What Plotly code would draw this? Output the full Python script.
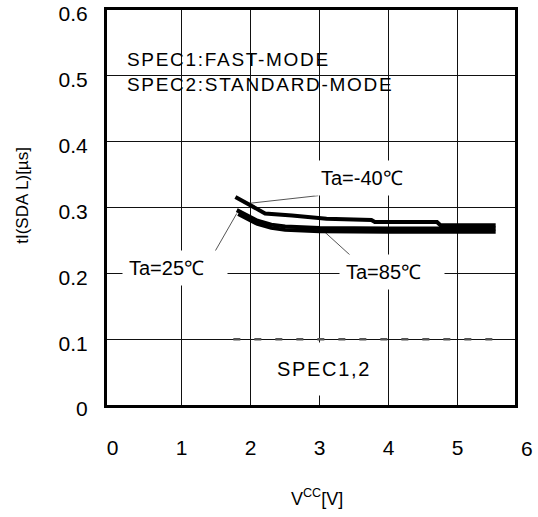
import plotly.graph_objects as go

# ---- data ----
vcc_m40 = [1.78, 1.92, 2.07, 2.21, 2.6, 3.0, 3.1, 3.75, 3.8, 4.7, 4.75, 5.55]
t_m40 = [0.316, 0.308, 0.299, 0.291, 0.288, 0.285, 0.283, 0.281, 0.278, 0.278, 0.273, 0.273]

vcc_25 = [1.8, 1.95, 2.1, 2.3, 2.5, 3.0, 4.0, 5.55]
t_25 = [0.296, 0.288, 0.280, 0.274, 0.271, 0.269, 0.268, 0.268]

vcc_85 = [1.82, 1.95, 2.1, 2.3, 2.5, 3.0, 4.0, 5.55]
t_85 = [0.290, 0.283, 0.275, 0.269, 0.266, 0.264, 0.263, 0.263]

spec_vcc = [1.75, 5.55]
spec_t = [0.1, 0.1]

# leader lines (label -> curve)
lead_m40_x = [2.98, 1.95]
lead_m40_y = [0.318, 0.306]
lead_25_x = [1.45, 1.80]
lead_25_y = [0.227, 0.291]
lead_85_x = [3.48, 3.05]
lead_85_y = [0.224, 0.265]

x_ticks = [0, 1, 2, 3, 4, 5]
x_grid = [1, 2, 3, 4, 5]
x_extra_tick = "6"
y_ticks = [0, 0.1, 0.2, 0.3, 0.4, 0.5, 0.6]
y_tick_text = ["0", "0.1", "0.2", "0.3", "0.4", "0.5", "0.6"]

FONT = "Liberation Sans, Arial, sans-serif"
X_RANGE = [-0.08, 5.83]
GRID = "#111111"

fig = go.Figure()

for xs, ys in [(lead_m40_x, lead_m40_y), (lead_25_x, lead_25_y), (lead_85_x, lead_85_y)]:
    fig.add_trace(go.Scatter(x=xs, y=ys, mode="lines",
                             line=dict(color="#555555", width=1), hoverinfo="skip"))

fig.add_trace(go.Scatter(x=spec_vcc, y=spec_t, mode="lines",
                         line=dict(color="#555555", width=2.5, dash="7px,14px"), hoverinfo="skip"))

for xs, ys, name in [(vcc_m40, t_m40, "Ta=-40℃"), (vcc_25, t_25, "Ta=25℃"), (vcc_85, t_85, "Ta=85℃")]:
    fig.add_trace(go.Scatter(x=xs, y=ys, mode="lines", name=name,
                             line=dict(color="black", width=4)))

nb = "\u00a0\u00a0\u00a0"
ls = '<span style="letter-spacing:1.7px">%s</span>'

annotations = [
    dict(text=ls % "SPEC1:FAST-MODE" + "<br>" + ls % "SPEC2:STANDARD-MODE",
         xref="paper", yref="paper", x=0.044, y=0.842, xanchor="left", yanchor="middle",
         align="left", showarrow=False, font=dict(size=19, family=FONT, color="black")),
    dict(text="Ta=-40℃" + nb, x=3.73, y=0.345, xref="x", yref="y", showarrow=False,
         bgcolor="white", borderpad=6, font=dict(size=20, family=FONT, color="black")),
    dict(text="Ta=25℃" + nb, x=0.904, y=0.208, xref="x", yref="y", showarrow=False,
         bgcolor="white", borderpad=6, font=dict(size=20, family=FONT, color="black")),
    dict(text="Ta=85℃" + nb, x=4.054, y=0.202, xref="x", yref="y", showarrow=False,
         bgcolor="white", borderpad=6, font=dict(size=20, family=FONT, color="black")),
    dict(text=ls % "SPEC1,2", x=3.063, y=0.0554, xref="x", yref="y", showarrow=False,
         bgcolor="white", borderpad=15, font=dict(size=20, family=FONT, color="black")),
    dict(text=x_extra_tick, xref="paper", x=(6 - X_RANGE[0]) / (X_RANGE[1] - X_RANGE[0]),
         y=-0.1089, yref="paper",
         xanchor="center", yanchor="middle", showarrow=False,
         font=dict(size=21, family=FONT, color="black")),
    dict(text="tI(SDA L)[µs]", textangle=-90, xref="paper", yref="paper",
         x=-0.206, y=0.532, xanchor="center", yanchor="middle", showarrow=False,
         font=dict(size=17, family=FONT, color="black")),
    dict(text="V<sup>CC</sup>[V]", xref="paper", yref="paper",
         x=0.515, y=-0.2354, xanchor="center", yanchor="middle", showarrow=False,
         font=dict(size=18, family=FONT, color="black")),
]

fig.update_layout(
    width=538, height=517,
    margin=dict(l=107, r=23, t=10, b=112, autoexpand=False),
    paper_bgcolor="white", plot_bgcolor="white",
    showlegend=False,
    annotations=annotations,
    font=dict(family=FONT, color="black"),
    xaxis=dict(
        range=X_RANGE, tickmode="array", tickvals=x_ticks,
        showgrid=False, zeroline=False,
        showline=True, linecolor="black", linewidth=3, mirror=True,
        ticks="outside", ticklen=22, tickcolor="rgba(0,0,0,0)",
        tickfont=dict(size=21, family=FONT, color="black"),
    ),
    xaxis2=dict(
        range=X_RANGE, overlaying="x", side="bottom",
        tickmode="array", tickvals=x_grid, showticklabels=False,
        showgrid=True, gridcolor=GRID, gridwidth=1, griddash="solid", zeroline=False,
        showline=False, ticks="",
    ),
    yaxis=dict(
        range=[0, 0.6], tickmode="array", tickvals=y_ticks, ticktext=y_tick_text,
        showgrid=True, gridcolor=GRID, gridwidth=1, griddash="solid", zeroline=False,
        showline=True, linecolor="black", linewidth=3, mirror=True,
        ticks="outside", ticklen=12, tickcolor="rgba(0,0,0,0)",
        ticklabeloverflow="allow", ticklabelshift=4,
        tickfont=dict(size=21, family=FONT, color="black"),
    ),
)
# invisible trace to activate the grid-only overlay axis
fig.add_trace(go.Scatter(x=[X_RANGE[0]], y=[0], xaxis="x2", yaxis="y", mode="markers",
                         marker=dict(opacity=0), hoverinfo="skip", showlegend=False))

fig.write_html("out.html", config={"displayModeBar": False},
               post_script="document.body.style.margin='0';document.body.style.overflow='hidden';")
